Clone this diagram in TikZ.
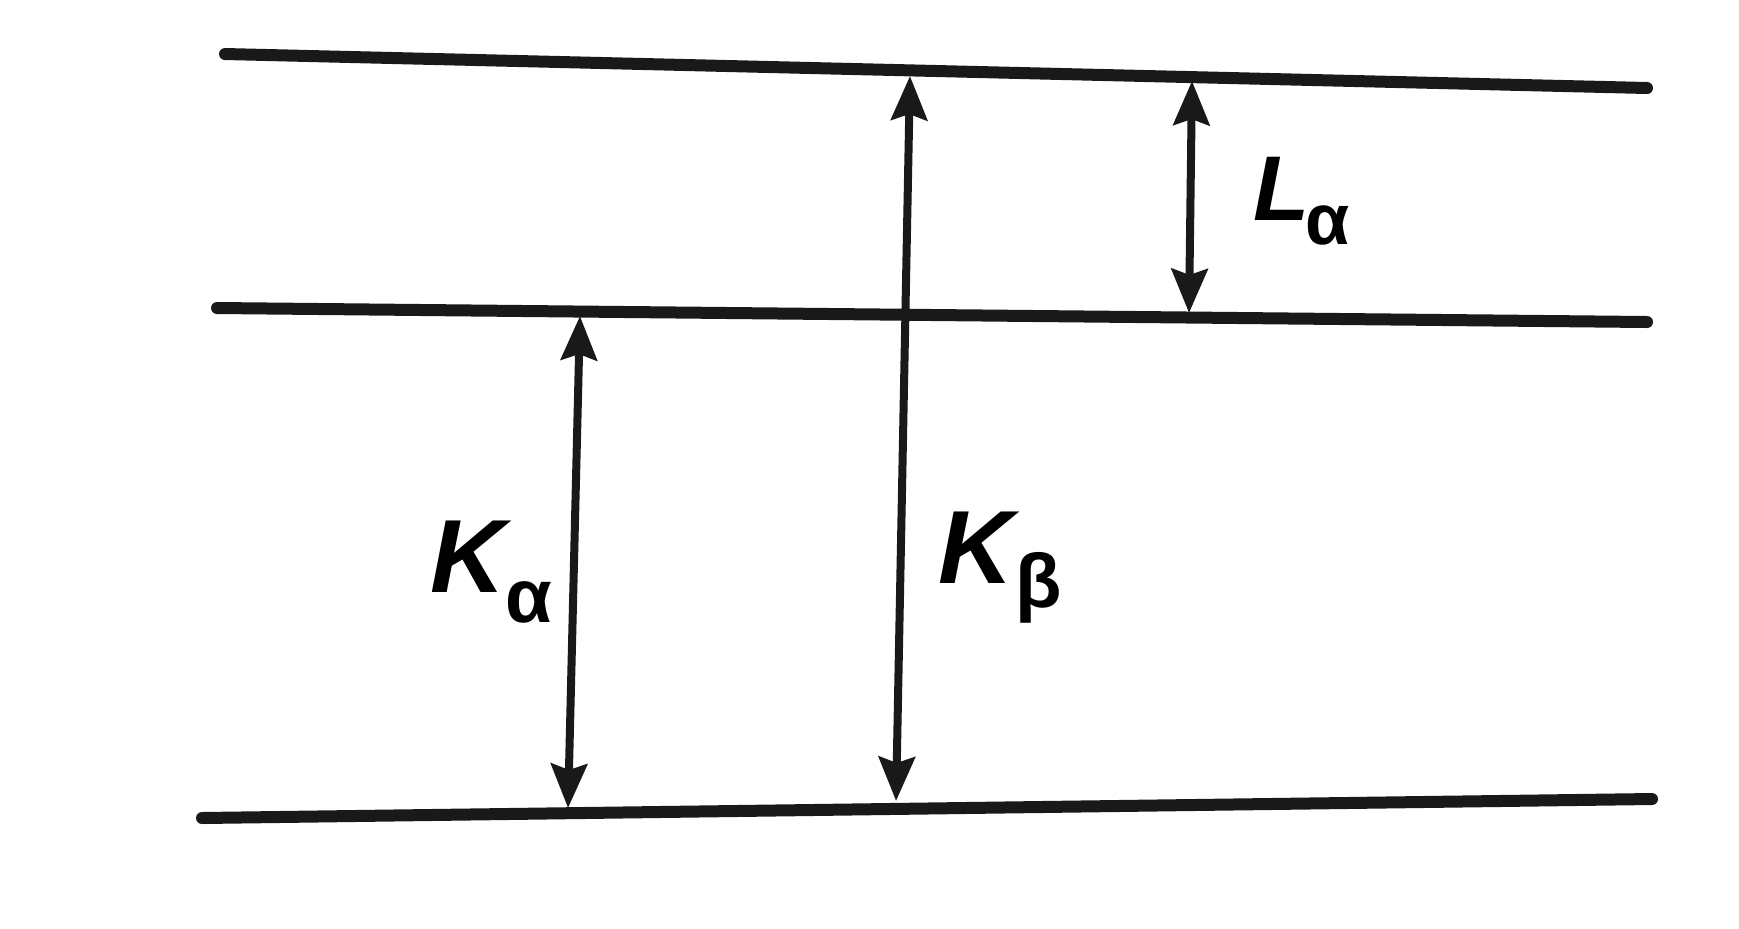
\documentclass[tikz,border=0pt]{standalone}
\usepackage{fontspec}
\setmainfont{Liberation Sans}
\usetikzlibrary{arrows.meta}
\begin{document}
\begin{tikzpicture}[x=0.5pt,y=-0.5pt,
  level/.style={line width=6pt,line cap=round,black!90},
  trans/.style={line width=4pt,black!90,
    {Stealth[length=22pt,width=18pt,inset=3pt]}-{Stealth[length=22pt,width=18pt,inset=3pt]},shorten <=1pt,shorten >=1pt},
  lab/.style={inner sep=0pt,anchor=base west,font=\fontsize{52}{56}\selectfont\bfseries}]
\useasboundingbox (0,0) rectangle (1739,928);
% levels
\coordinate (t1) at (225,54);  \coordinate (t2) at (1647,88);
\coordinate (m1) at (217,308); \coordinate (m2) at (1647,322);
\coordinate (b1) at (202,818); \coordinate (b2) at (1652,799);
\draw[level] (t1) -- (t2);
\draw[level] (m1) -- (m2);
\draw[level] (b1) -- (b2);
% arrow end points on levels
\coordinate (ka1) at (580,314); \coordinate (ka2) at (568,810);
\coordinate (kb1) at (910,74);  \coordinate (kb2) at (896,803);
\coordinate (la1) at (1192,79); \coordinate (la2) at (1189,315);
\draw[trans] (ka2) -- (ka1);
\draw[trans] (kb2) -- (kb1);
\draw[trans] (la1) -- (la2);
% labels
\node[lab] (lka) at (430,592) {\textit{K}\kern-3pt\raisebox{-15pt}{\fontsize{38}{40}\selectfont α}};
\node[lab] (lkb) at (938,583) {\textit{K}\kern-2pt\raisebox{-12pt}{\fontsize{38}{40}\selectfont β}};
\node[lab,font=\fontsize{46}{50}\selectfont\bfseries] (lla) at (1253,220) {\textit{L}\kern-2pt\raisebox{-12pt}{\fontsize{36}{40}\selectfont α}};
\end{tikzpicture}
\end{document}
